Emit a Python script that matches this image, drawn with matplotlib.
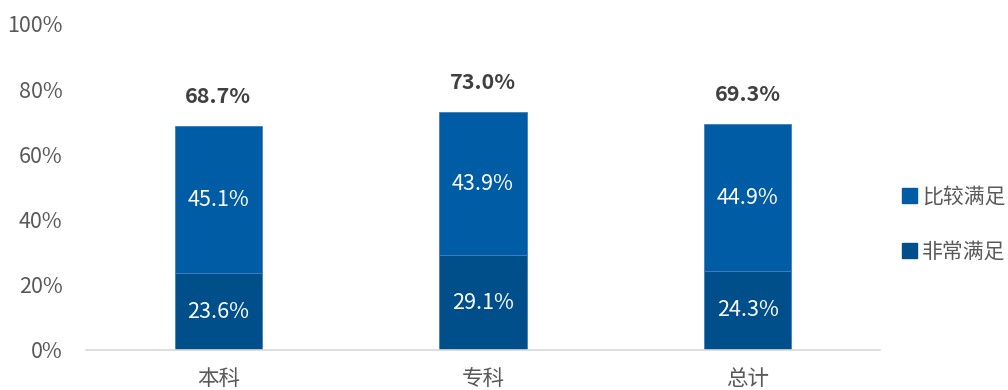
import matplotlib
matplotlib.use("Agg")
import matplotlib.pyplot as plt
from matplotlib.patches import Patch

plt.rcParams['font.family'] = ['Noto Sans CJK SC', 'DejaVu Sans']

categories = ['本科', '专科', '总计']
very_satisfied = [23.6, 29.1, 24.3]
satisfied = [45.1, 43.9, 44.9]
totals = [68.7, 73.0, 69.3]
yticks = [0, 20, 40, 60, 80, 100]
series_names = ['非常满足', '比较满足']

c_low = '#004F8B'
c_up = '#005CA5'
edge = '#3F7FBF'

fig = plt.figure(figsize=(10.08, 3.9), dpi=100)
ax = fig.add_axes([0.0853, 0.1026, 0.7877, 0.8359])
x = range(len(categories))
w = 0.33
ax.bar(x, very_satisfied, width=w, color=c_low, edgecolor=edge, linewidth=0.6)
ax.bar(x, satisfied, width=w, bottom=very_satisfied, color=c_up, edgecolor=edge, linewidth=0.6)

for i in x:
    ax.text(i, very_satisfied[i] / 2, f'{very_satisfied[i]:.1f}%', ha='center', va='center',
            color='white', fontsize=15.5)
    ax.text(i, very_satisfied[i] + satisfied[i] / 2, f'{satisfied[i]:.1f}%', ha='center',
            va='center', color='white', fontsize=15.5)
    ax.text(i, totals[i] + 9.2, f'{totals[i]:.1f}%', ha='center', va='center',
            color='#404040', fontsize=15.5, fontweight='bold')

ax.set_xlim(-0.5, 2.5)
ax.set_ylim(0, 100)
ax.set_yticks(yticks)
ax.set_yticklabels([f'{t}%' for t in yticks])
ax.set_xticks(list(x))
ax.set_xticklabels(categories)
ax.tick_params(axis='both', length=0, labelsize=15.5, colors='#595959')
ax.tick_params(axis='y', pad=17)
ax.tick_params(axis='x', pad=13)
for s in ['top', 'right', 'left']:
    ax.spines[s].set_visible(False)
ax.spines['bottom'].set_color('#D9D9D9')
ax.spines['bottom'].set_linewidth(1.2)

handles = [Patch(facecolor=c_up, edgecolor=c_up), Patch(facecolor=c_low, edgecolor=c_low)]
fig.legend(handles, [series_names[1], series_names[0]], loc='center left',
           bbox_to_anchor=(0.895, 0.425), frameon=False, borderpad=0, borderaxespad=0,
           prop={'size': 15},
           handlelength=0.7, handleheight=0.7, handletextpad=0.25, labelspacing=1.6,
           labelcolor='#595959')

fig.savefig('out.png', dpi=100)
